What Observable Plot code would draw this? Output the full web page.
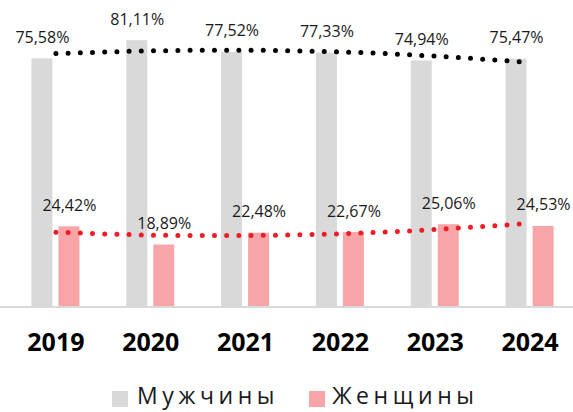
<!DOCTYPE html>
<html>
<head>
<meta charset="utf-8">
<script src="https://cdn.jsdelivr.net/npm/d3@7"></script>
<script src="https://cdn.jsdelivr.net/npm/@observablehq/plot@0.6"></script>
<style>
  html, body { margin: 0; padding: 0; background: #fff; }
  body { width: 573px; height: 412px; overflow: hidden; font-family: "Open Sans", sans-serif; }
  #chart svg { display: block; overflow: visible; }
  #legend { height: 40px; display: flex; align-items: flex-start; justify-content: flex-start; padding-left: 112px; padding-top: 8px; box-sizing: border-box; }
  .item { display: flex; align-items: flex-start; }
  .sw { width: 16px; height: 16px; margin-top: 11px; }
  .lab { font-size: 23px; color: #1a1a1a; letter-spacing: 4.6px; line-height: 31px; white-space: nowrap; }
</style>
</head>
<body>
<div id="chart"></div>
<div id="legend"></div>
<script>
const years = ["2019", "2020", "2021", "2022", "2023", "2024"];
const men = [75.58, 81.11, 77.52, 77.33, 74.94, 75.47];
const women = [24.42, 18.89, 22.48, 22.67, 25.06, 24.53];
// trend line values at each category
const menTrend = [77.2, 78.0, 78.2, 77.7, 76.4, 74.5];
const womenTrend = [22.8, 21.9, 21.8, 22.3, 23.6, 25.5];
const seriesNames = ["Мужчины", "Женщины"];
const colors = { men: "#d9d9d9", women: "#f8a5a8", menTrend: "#000000", womenTrend: "#ee1c25" };

const fmt = v => v.toFixed(2).replace(".", ",") + "%";
const rows = years.map((y, i) => ({ year: y, men: men[i], women: women[i], mt: menTrend[i], wt: womenTrend[i] }));

const chart = Plot.plot({
  width: 573,
  height: 372,
  marginLeft: 8,
  marginRight: -4,
  marginTop: 11,
  marginBottom: 65.5,
  style: { fontFamily: "Open Sans, sans-serif", background: "#fff" },
  x: { domain: years, paddingInner: 0.494, paddingOuter: 0.247, round: false, label: null },
  y: { domain: [0, 90], axis: null },
  marks: [
    Plot.barY(rows, { x: "year", y: "men", fill: colors.men, insetRight: 27 }),
    Plot.barY(rows, { x: "year", y: "women", fill: colors.women, insetLeft: 27 }),
    Plot.ruleY([0], { stroke: "#d9d9d9", strokeWidth: 2, x1: () => years[0], x2: () => years[years.length - 1], insetLeft: -40, insetRight: -60 }),
    Plot.line(rows, { x: "year", y: "mt", stroke: colors.menTrend, strokeWidth: 5, strokeDasharray: "0 12.2", strokeLinecap: "round", curve: "natural" }),
    Plot.line(rows, { x: "year", y: "wt", stroke: colors.womenTrend, strokeWidth: 5, strokeDasharray: "0 12.2", strokeLinecap: "round", curve: "natural" }),
    Plot.text(rows, { x: "year", y: "men", text: d => fmt(d.men), dx: -13.5, dy: -16, lineAnchor: "bottom", fontSize: 16, fill: "#1a1a1a" }),
    Plot.text(rows, { x: "year", y: "women", text: d => fmt(d.women), dx: 13.5, dy: -16, lineAnchor: "bottom", fontSize: 16, fill: "#1a1a1a" }),
    Plot.axisX({ tickSize: 0, tickPadding: 26, fontSize: 25, fontWeight: "bold", fill: "#000", label: null })
  ]
});
document.getElementById("chart").appendChild(chart);

const legend = document.getElementById("legend");
const items = [
  { name: seriesNames[0], color: colors.men, gap: 9, after: 30 },
  { name: seriesNames[1], color: colors.women, gap: 7, after: 0 }
];
for (const it of items) {
  const d = document.createElement("div");
  d.className = "item";
  d.style.marginRight = it.after + "px";
  const s = document.createElement("div");
  s.className = "sw";
  s.style.background = it.color;
  s.style.marginRight = it.gap + "px";
  const t = document.createElement("span");
  t.className = "lab";
  t.textContent = it.name;
  d.appendChild(s);
  d.appendChild(t);
  legend.appendChild(d);
}
</script>
</body>
</html>
